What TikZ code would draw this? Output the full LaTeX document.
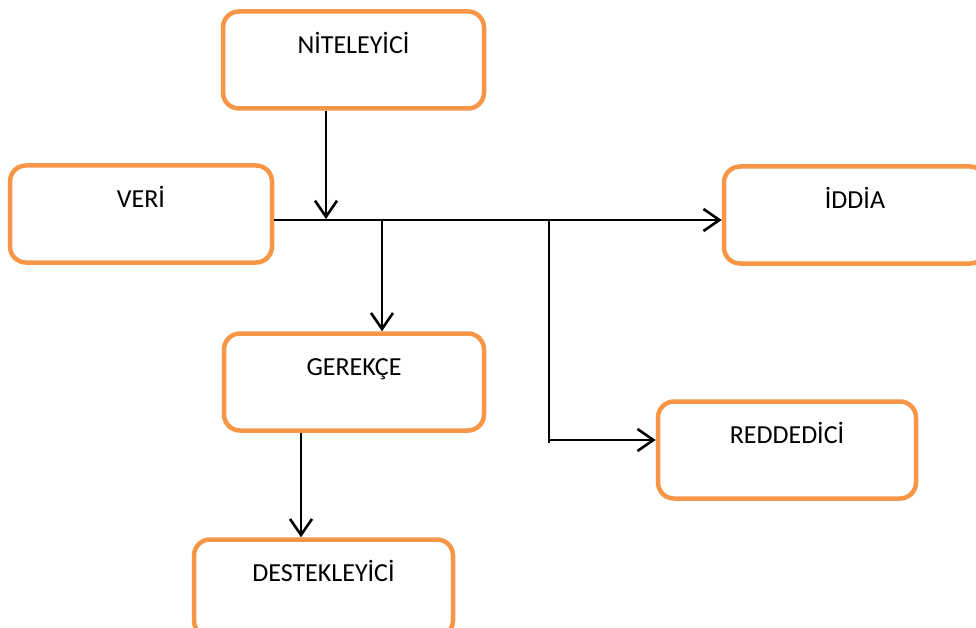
\documentclass[tikz,border=0pt]{standalone}
\usepackage{fontspec}
\setmainfont{Carlito}
\usetikzlibrary{arrows.meta}
\definecolor{boxorange}{HTML}{F79646}
\tikzset{
  box/.style={draw=boxorange, line width=4.5pt, rounded corners=16pt, fill=white,
    minimum width=#1, inner sep=0pt, text height=42pt, text depth=55pt,
    font=\fontsize{26}{30}\selectfont, text=black},
  box/.default=260pt,
  arr/.style={line width=2.6pt, -{Straight Barb[length=16pt,width=22pt]}},
  ln/.style={line width=2.6pt}
}
\begin{document}
\begin{tikzpicture}[x=1pt,y=-1pt]
\clip (0,0) rectangle (976,628);
\fill[white] (0,0) rectangle (976,628);
\node[box=261pt] (nit) at (353.5,60) {NİTELEYİCİ};
\node[box=262pt] (veri) at (141,214) {VERİ};
\node[box=262pt] (iddia) at (855,215) {İDDİA};
\node[box=260pt] (ger) at (354,382) {GEREKÇE};
\node[box=258pt] (red) at (787,450) {REDDEDİCİ};
\node[box=259pt] (des) at (323.5,588) {DESTEKLEYİCİ};
\coordinate (h) at (0,220);
\coordinate (tq) at (326,219);
\coordinate (j2) at (382,221);
\coordinate (j3) at (549,221);
\coordinate (j3b) at (549,440);
\coordinate (j3c) at (549,443);
\coordinate (x4) at (301,0);
\draw[arr] (veri.east |- h) -- (iddia.west |- h);
\draw[arr] (nit.south -| tq) -- (tq);
\draw[arr] (j2) -- (ger.north -| j2);
\draw[ln] (j3) -- (j3c);
\draw[arr] (j3b) -- (red.west |- j3b);
\draw[arr] (ger.south -| x4) -- (des.north -| x4);
\end{tikzpicture}
\end{document}
